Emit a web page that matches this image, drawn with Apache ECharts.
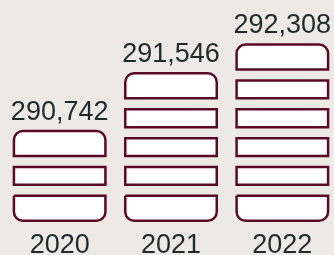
<!DOCTYPE html>
<html>
<head>
<meta charset="utf-8">
<script src="https://cdn.jsdelivr.net/npm/echarts@6/dist/echarts.min.js"></script>
<style>
  html, body { margin: 0; padding: 0; background: #ece9e7; }
  #chart { width: 334px; height: 255px; }
</style>
</head>
<body>
<div id="chart"></div>
<script>
// data
const years = ['2020', '2021', '2022']
const totals = [290742, 291546, 292308]
const segments = [3, 5, 6]

// block sizes in axis units (1 unit = 1px here)
const CAP = 27.5
const MID = 20.3
const GAP = 8.5

const MAROON = '#5b0a26'
const INK = '#1f2b2b'
const FONT = '"Liberation Sans", Arial, sans-serif'

const block = {
  color: '#fff',
  borderColor: MAROON,
  borderWidth: 2.5
}
const gapStyle = { color: 'transparent', borderWidth: 0 }

const series = []
series.push({
  name: 'bottom', type: 'bar', stack: 'b', barWidth: 94, silent: true,
  itemStyle: { ...block, borderRadius: [0, 0, 9, 9] },
  data: segments.map(() => CAP)
})
const maxMid = Math.max(...segments) - 2
for (let k = 0; k < maxMid; k++) {
  series.push({
    name: 'gap' + k, type: 'bar', stack: 'b', silent: true,
    itemStyle: gapStyle,
    data: segments.map(n => (n - 2 > k ? GAP : '-'))
  })
  series.push({
    name: 'mid' + k, type: 'bar', stack: 'b', silent: true,
    itemStyle: { ...block },
    data: segments.map(n => (n - 2 > k ? MID : '-'))
  })
}
series.push({
  name: 'gapTop', type: 'bar', stack: 'b', silent: true,
  itemStyle: gapStyle,
  data: segments.map(() => GAP)
})
series.push({
  name: 'top', type: 'bar', stack: 'b', silent: true,
  itemStyle: { ...block, borderRadius: [9, 9, 0, 0] },
  label: {
    show: true,
    position: 'top',
    distance: 4,
    color: INK,
    fontFamily: FONT,
    fontSize: 27,
    formatter: p => totals[p.dataIndex].toLocaleString('en-US')
  },
  data: segments.map(() => CAP)
})

const chart = echarts.init(document.getElementById('chart'))
chart.setOption({
  backgroundColor: '#ece9e7',
  animation: false,
  grid: { left: 4, width: 334, top: 22, height: 200, outerBoundsMode: 'none', containLabel: false },
  xAxis: {
    type: 'category',
    data: years,
    axisLine: { show: false },
    axisTick: { show: false },
    axisLabel: { color: INK, fontFamily: FONT, fontSize: 27, margin: 10 }
  },
  yAxis: { type: 'value', min: 0, max: 200, show: false },
  series
})
</script>
</body>
</html>
